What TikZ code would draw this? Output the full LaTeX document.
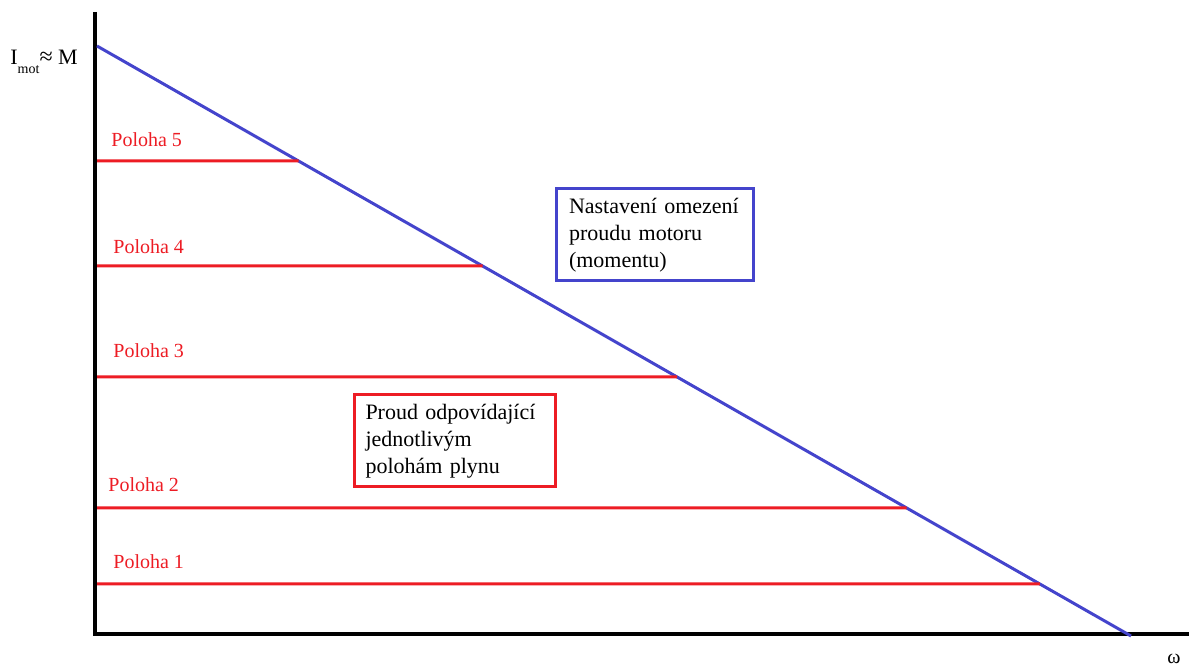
\documentclass[tikz,border=0pt]{standalone}
\usepackage{fontspec}
\setmainfont{Liberation Serif}
\usetikzlibrary{positioning,calc}
\definecolor{limitblue}{RGB}{68,68,204}
\definecolor{gasred}{RGB}{237,28,36}
\tikzstyle{axis} = [
    line width=2.3pt,
    black]
\tikzstyle{limit} = [
    line width=1.5pt,
    limitblue]
\tikzstyle{level} = [
    line width=1.5pt,
    gasred]
\tikzstyle{poloha} = [
    anchor=base west,
    inner sep=0pt,
    text=gasred,
    font=\fontsize{10}{12}\selectfont]
\tikzstyle{note} = [
    draw,
    line width=1.5pt,
    align=left,
    minimum height=46pt,
    inner ysep=2pt,
    font=\fontsize{11}{13.4}\selectfont]

\begin{document}
\begin{tikzpicture}[x=0.5pt,y=-0.5pt]
        \useasboundingbox (0,0) rectangle (1189,667);
        % axes
        \coordinate (ytop) at (95,12);
        \coordinate (O) at (95,634);
        \coordinate (xend) at (1189,634);
        \draw[axis] (ytop) -- (O) -- (xend);
        \node[anchor=base west, inner sep=0pt, font=\fontsize{11}{13}\selectfont] (ylab) at (10,65)
            {I\raisebox{-4.5pt}{\fontsize{7}{8}\selectfont mot}{\fontsize{12}{13}\selectfont≈} M};
        \node[anchor=base, inner sep=0pt, font=\fontsize{10}{12}\selectfont] (wlab) at (1174,664) {ω};

        % current limit
        \coordinate (Mtop) at (97,46);
        \coordinate (Mzero) at (1131,636);
        \draw[limit] (Mtop) -- (Mzero);

        % throttle positions
        \foreach \i/\y/\lx/\ly in {5/161/111/147, 4/266/113/254, 3/377/113/358, 2/508/108/492, 1/584/113/569} {
            \coordinate (s\i) at (97,\y);
            \coordinate (e\i) at ($(Mtop)!{(\y-46)/590}!(Mzero)$);
            \draw[level] (s\i) -- (e\i);
            \node[poloha] (p\i) at (\lx,\ly) {Poloha \i};
        }

        \node[note, draw=limitblue, text width=86pt, minimum width=98.5pt, inner xsep=6pt]
            (limitnote) at (655,235) {Nastavení omezení\\proudu motoru\\(momentu)};
        \node[note, draw=gasred, text width=89pt, minimum width=100.5pt, inner xsep=5pt]
            (gasnote) at (454.5,441) {Proud odpovídající\\jednotlivým\\polohám plynu};
    \end{tikzpicture}
\end{document}
